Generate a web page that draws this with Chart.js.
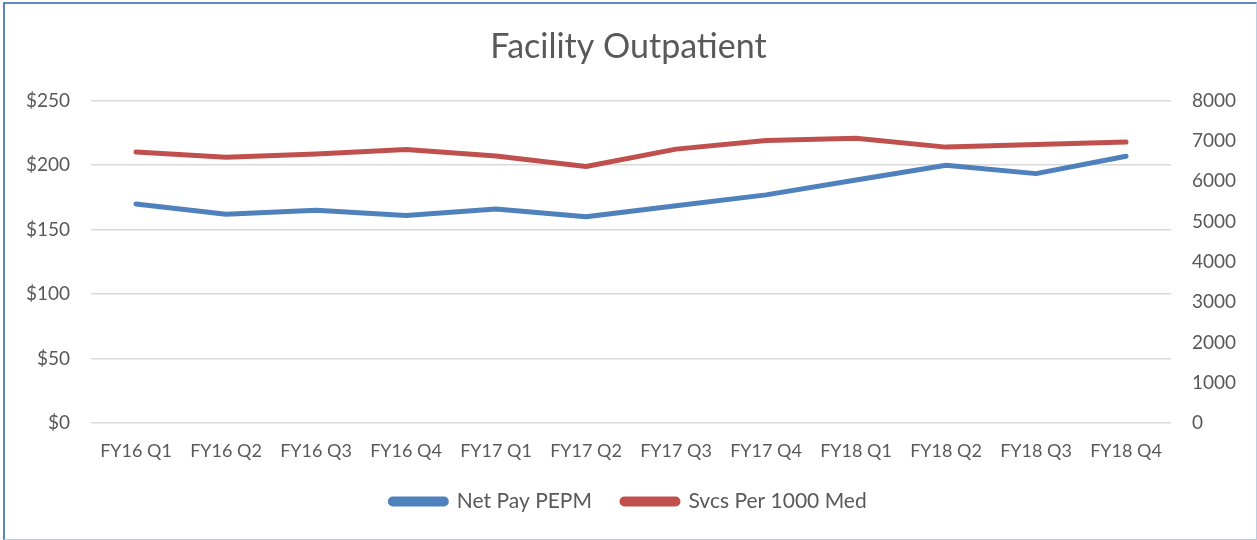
<!DOCTYPE html>
<html>
<head>
<meta charset="utf-8">
<script src="https://cdn.jsdelivr.net/npm/chart.js@4"></script>
<style>
  html, body { margin: 0; padding: 0; background: #fff; }
  #wrap { position: absolute; left: 0; top: 0; width: 1257px; height: 540px; }
  #frame {
    position: absolute; left: 3px; top: 2px; right: 0; bottom: 0;
    border-left: 2px solid #5B87C5; border-top: 2px solid #5B87C5;
    border-right: 1px solid #BCCDE8; border-bottom: 1px solid #BCCDE8;
    pointer-events: none;
  }
</style>
</head>
<body>
<div id="wrap">
  <canvas id="myChart" width="1257" height="540"></canvas>
  <div id="frame"></div>
</div>
<script>
// Catégories (trimestres)
const quarters = ['FY16 Q1', 'FY16 Q2', 'FY16 Q3', 'FY16 Q4', 'FY17 Q1', 'FY17 Q2',
                  'FY17 Q3', 'FY17 Q4', 'FY18 Q1', 'FY18 Q2', 'FY18 Q3', 'FY18 Q4'];

// Net Pay PEPM (axe gauche, $)
const netPayPEPM = [170, 162, 165, 161, 166, 160, 168.5, 177, 188.5, 200, 193.5, 207];

// Svcs Per 1000 Med (axe droit)
const svcsPer1000 = [6730, 6600, 6680, 6790, 6630, 6370, 6800, 7015, 7070, 6850, 6915, 6975];

const textColor = '#595959';
const fontFamily = 'Lato, "Open Sans", sans-serif';

const ctx = document.getElementById('myChart').getContext('2d');
new Chart(ctx, {
    type: 'line',
    data: {
        labels: quarters,
        datasets: [
            {
                label: 'Net Pay PEPM',
                data: netPayPEPM,
                borderColor: '#4F81BD',
                backgroundColor: '#4F81BD',
                borderWidth: 5,
                pointRadius: 0,
                borderCapStyle: 'round',
                borderJoinStyle: 'round',
                yAxisID: 'y'
            },
            {
                label: 'Svcs Per 1000 Med',
                data: svcsPer1000,
                borderColor: '#C0504D',
                backgroundColor: '#C0504D',
                borderWidth: 5,
                pointRadius: 0,
                borderCapStyle: 'round',
                borderJoinStyle: 'round',
                yAxisID: 'y2'
            }
        ]
    },
    options: {
        responsive: false,
        animation: false,
        layout: { padding: { left: 0, right: 0, top: 0, bottom: 18 } },
        scales: {
            x: {
                offset: true,
                grid: { display: false, drawTicks: false },
                border: { display: false },
                ticks: { color: textColor, font: { family: fontFamily, size: 18 }, padding: 17, maxRotation: 0 },
                afterFit: s => { s.height = 38; }
            },
            y: {
                position: 'left',
                min: 0, max: 250,
                grid: { color: '#D9D9D9', lineWidth: 1.5, drawTicks: false },
                border: { display: false },
                ticks: {
                    stepSize: 50, color: textColor, padding: 21,
                    font: { family: fontFamily, size: 19 },
                    callback: v => '$' + v
                },
                afterFit: s => { s.width = 91; }
            },
            y2: {
                position: 'right',
                min: 0, max: 8000,
                grid: { display: false, drawTicks: false },
                border: { display: false },
                ticks: {
                    stepSize: 1000, color: textColor, padding: 21,
                    font: { family: fontFamily, size: 19 },
                    callback: v => String(v)
                },
                afterFit: s => { s.width = 86; }
            }
        },
        plugins: {
            title: {
                display: true,
                text: 'Facility Outpatient',
                color: textColor,
                font: { family: fontFamily, size: 34, weight: 'normal' },
                padding: { top: 27, bottom: 33 }
            },
            legend: {
                position: 'bottom',
                labels: {
                    color: textColor,
                    font: { family: fontFamily, size: 21 },
                    boxWidth: 56,
                    boxHeight: 5,
                    useBorderRadius: true,
                    borderRadius: 2.5,
                    padding: 30
                }
            },
            tooltip: { enabled: false }
        }
    }
});
</script>
</body>
</html>
